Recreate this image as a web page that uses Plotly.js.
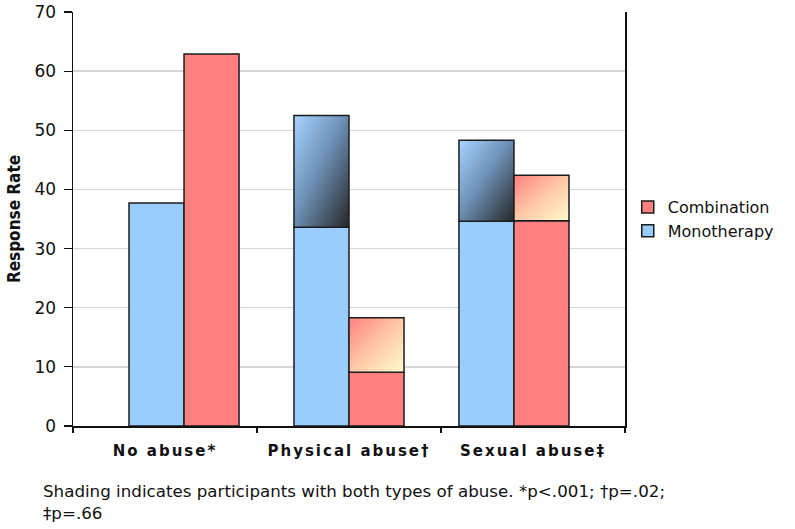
<!DOCTYPE html>
<html>
<head>
<meta charset="utf-8">
<script src="https://cdn.plot.ly/plotly-3.0.1.min.js"></script>
<style>
  html, body { margin: 0; padding: 0; background: #fff; }
  #chart { width: 795px; height: 529px; }
  .x2tick text { letter-spacing: 2px; }
</style>
</head>
<body>
<svg width="0" height="0" style="position:absolute">
  <defs>
    <linearGradient id="gradBlue" x1="0" y1="0" x2="1" y2="1">
      <stop offset="0" stop-color="#a9d5ff"/>
      <stop offset="0.45" stop-color="#6f93ba"/>
      <stop offset="1" stop-color="#262626"/>
    </linearGradient>
    <linearGradient id="gradRed" x1="0" y1="0" x2="1" y2="1">
      <stop offset="0" stop-color="#ff7f7f"/>
      <stop offset="0.5" stop-color="#ffc8a8"/>
      <stop offset="1" stop-color="#fffccc"/>
    </linearGradient>
  </defs>
</svg>
<div id="chart"></div>
<script>
// ---- data ----
const categories = ['No abuse*', 'Physical abuse\u2020', 'Sexual abuse\u2021'];
const monoBase = [37.7, 33.6, 34.6];      // Monotherapy (unshaded part)
const monoTop  = [null, 52.5, 48.3];      // Monotherapy top incl. shaded part
const combBase = [62.9, 9.1, 34.7];       // Combination (unshaded part)
const combTop  = [null, 18.3, 42.4];      // Combination top incl. shaded part
const yTicks   = [0, 10, 20, 30, 40, 50, 60, 70];
const caption  = 'Shading indicates participants with both types of abuse. *p<.001; \u2020p=.02;<br>\u2021p=.66';

const monoShade = monoTop.map((t, i) => t == null ? null : t - monoBase[i]);
const combShade = combTop.map((t, i) => t == null ? null : t - combBase[i]);

const outline = { color: '#1c1c1c', width: 1.5 };

const traces = [
  { type: 'bar', name: 'Monotherapy', x: categories, y: monoBase, offsetgroup: 'mono',
    marker: { color: '#99ccff', line: outline }, legendrank: 2, meta: 'plain' },
  { type: 'bar', name: 'Monotherapy both', x: categories, y: monoShade, base: monoBase, offsetgroup: 'mono',
    marker: { color: '#6f93ba', line: outline }, showlegend: false, meta: 'gradBlue' },
  { type: 'bar', name: 'Combination', x: categories, y: combBase, offsetgroup: 'comb',
    marker: { color: '#ff8080', line: outline }, legendrank: 1, meta: 'plain' },
  { type: 'bar', name: 'Combination both', x: categories, y: combShade, base: combBase, offsetgroup: 'comb',
    marker: { color: '#ffc8a8', line: outline }, showlegend: false, meta: 'gradRed' },
  // invisible carrier for the category tick axis (labels and boundary ticks)
  { type: 'scatter', mode: 'none', x: categories, y: categories.map(() => null),
    xaxis: 'x2', yaxis: 'y', showlegend: false, hoverinfo: 'skip' }
];

const layout = {
  width: 795, height: 529,
  margin: { l: 73, r: 170, t: 12, b: 103 },
  paper_bgcolor: '#ffffff', plot_bgcolor: '#ffffff',
  barmode: 'group', bargap: 0.333, bargroupgap: 0,
  showlegend: true,
  hovermode: false,
  font: { family: 'DejaVu Sans, Liberation Sans, Arial, sans-serif', color: '#111' },
  xaxis: {
    type: 'category', range: [-0.673, 2.673],
    showline: true, linecolor: '#111', linewidth: 1.5,
    ticks: '', showticklabels: false,
    showgrid: false, zeroline: false
  },
  xaxis2: {
    type: 'category', range: [-0.5, 2.5], overlaying: 'x', anchor: 'y', side: 'bottom',
    showline: false,
    ticks: 'outside', tickson: 'boundaries', ticklen: 6, tickcolor: '#111', tickwidth: 1.2,
    showgrid: false, zeroline: false,
    tickfont: { family: 'DejaVu Sans, Arial, sans-serif', size: 15, weight: 'bold', color: '#111' },
    ticklabelstandoff: 14
  },
  yaxis: {
    range: [0, 70], tickvals: yTicks, ticktext: yTicks.map(String),
    showline: true, linecolor: '#111', linewidth: 1.5, mirror: true,
    ticks: 'outside', ticklen: 8, tickcolor: '#111', tickwidth: 1.2,
    showgrid: true, gridcolor: '#d6d6d6', gridwidth: 1.5, zeroline: false,
    tickfont: { family: 'DejaVu Sans, Arial, sans-serif', size: 17, color: '#111' },
    ticklabelstandoff: 4,
    title: { text: 'Response Rate', standoff: 9,
             font: { family: 'Liberation Sans Narrow, DejaVu Sans Condensed, Liberation Sans, Arial, sans-serif', size: 17, weight: 'bold', color: '#111' } }
  },
  legend: {
    x: 1.005, xanchor: 'left', y: 0.5, yanchor: 'middle',
    font: { family: 'DejaVu Sans, Arial, sans-serif', size: 16, color: '#111' },
    bgcolor: 'rgba(0,0,0,0)', borderwidth: 0, tracegroupgap: 0, itemwidth: 30
  },
  annotations: [{
    xref: 'paper', yref: 'paper', x: -0.058, y: -0.128, xanchor: 'left', yanchor: 'top',
    align: 'left', showarrow: false, text: caption,
    font: { family: 'DejaVu Sans, Liberation Sans, Arial, sans-serif', size: 16.7, color: '#111' }
  }]
};

Plotly.newPlot('chart', traces, layout, { staticPlot: true, displayModeBar: false }).then(gd => {
  const groups = gd.querySelectorAll('.barlayer .trace');
  groups.forEach((g, i) => {
    const m = gd._fullData[i] && gd._fullData[i].meta;
    if (m === 'gradBlue' || m === 'gradRed') {
      g.querySelectorAll('path').forEach(p => { p.style.fill = 'url(#' + m + ')'; });
    }
  });
});
</script>
</body>
</html>
